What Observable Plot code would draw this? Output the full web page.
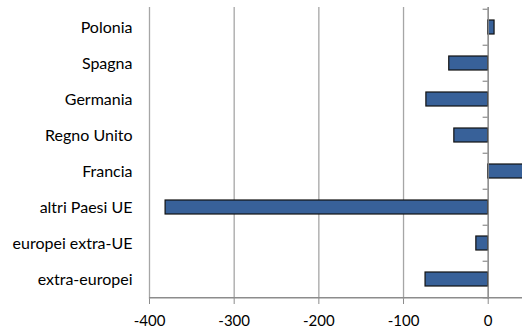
<!DOCTYPE html>
<html><head><meta charset="utf-8">
<script src="https://cdn.jsdelivr.net/npm/d3@7"></script>
<script src="https://cdn.jsdelivr.net/npm/@observablehq/plot@0.6"></script>
<style>body{margin:0;background:#fff;} svg{display:block;}</style>
</head><body><div id="chart"></div>
<script>
const categories = ["Polonia","Spagna","Germania","Regno Unito","Francia","altri Paesi UE","europei extra-UE","extra-europei"];
const values = [7.5, -46, -73, -40, 42, -381, -14, -74];
const xTicks = [-400, -300, -200, -100, 0];

const data = categories.map((c, i) => ({cat: c, v: values[i]}));
const step = (299 - 7) / categories.length;

const chart = Plot.plot({
  width: 522, height: 334,
  marginLeft: 149, marginRight: 0, marginTop: 7, marginBottom: 35,
  style: {fontFamily: "Lato, 'Open Sans', sans-serif", fontSize: "14px", color: "#000", background: "#fff"},
  x: {domain: [-400, 40.5], ticks: xTicks, tickFormat: d => String(d), label: null},
  y: {domain: categories, paddingInner: 0.6, paddingOuter: 0.3, label: null},
  marks: [
    Plot.ruleX(xTicks, {stroke: "#a6a6a6", strokeWidth: 1.3, strokeOpacity: 1}),
    Plot.barX(data, {x: "v", y: "cat", fill: "#386199", stroke: "#111", strokeWidth: 1.2}),
    Plot.ruleX([0], {stroke: "#8c8c8c", strokeWidth: 1.3}),
    Plot.ruleY(categories, {y: d => d, x1: -6, x2: 0, dy: -step / 2, stroke: "#8c8c8c", strokeWidth: 1.2}),
    Plot.ruleY([categories[categories.length - 1]], {y: d => d, x1: -6, x2: 0, dy: step / 2, stroke: "#8c8c8c", strokeWidth: 1.2}),
    Plot.ruleY([categories[categories.length - 1]], {y: d => d, x1: -400, x2: 40.5, dy: step / 2, stroke: "#8c8c8c", strokeWidth: 1.3}),
    Plot.axisY({tickSize: 0, tickPadding: 17, fontSize: 16}),
    Plot.axisX({ticks: xTicks, tickFormat: d => String(d), tickSize: 5, tickPadding: 11, stroke: "#8c8c8c", fontSize: 15, label: null})
  ]
});
document.getElementById("chart").appendChild(chart);
</script></body></html>
